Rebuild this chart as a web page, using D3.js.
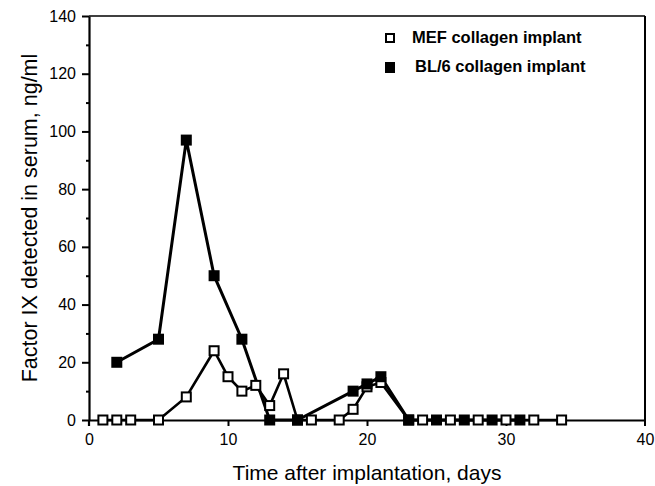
<!DOCTYPE html>
<html>
<head>
<meta charset="utf-8">
<script src="https://cdn.jsdelivr.net/npm/d3@7"></script>
<style>
  body { margin: 0; background: #fff; }
  svg text { font-family: "Liberation Sans", Arial, sans-serif; fill: #000; }
</style>
</head>
<body>
<svg id="chart" width="655" height="486"></svg>
<script>
// days and values
var mefDays = [1, 2, 3, 5, 7, 9, 10, 11, 12, 13, 14, 15, 16, 18, 19, 20, 21, 23, 24, 26, 28, 30, 32, 34];
var mefValues = [0, 0, 0, 0, 8, 24, 15, 10, 12, 5, 16, 0, 0, 0, 3.7, 11.5, 13, 0, 0, 0, 0, 0, 0, 0];
var bl6Days = [2, 5, 7, 9, 11, 13, 15, 19, 20, 21, 23, 25, 27, 29, 31];
var bl6Values = [20, 28, 97, 50, 28, 0, 0, 10, 12.5, 15, 0, 0, 0, 0, 0];
var xTicks = [0, 10, 20, 30, 40];
var yTicks = [0, 20, 40, 60, 80, 100, 120, 140];
var yMinor = [10, 30, 50, 70, 90, 110, 130];
var legendLabels = ['MEF collagen implant', 'BL/6 collagen implant'];

var svg = d3.select('#chart');
// plot box (don't call it "top", window.top is read only)
var plotL = 89, plotR = 645, plotT = 16, plotB = 420;

var x = d3.scaleLinear().domain([0, 40]).range([plotL, plotR]);
var y = d3.scaleLinear().domain([0, 140]).range([plotB, plotT]);

// frame: top and right thin lines
svg.append('line').attr('x1', plotL).attr('x2', plotR).attr('y1', plotT).attr('y2', plotT)
   .attr('stroke', '#000').attr('stroke-width', 1.5);
svg.append('line').attr('x1', plotR).attr('x2', plotR).attr('y1', plotT).attr('y2', plotB + 6)
   .attr('stroke', '#000').attr('stroke-width', 2);

// y axis
svg.append('g').attr('transform', 'translate(' + plotL + ',0)')
  .call(d3.axisLeft(y).tickValues(yTicks).tickSize(7).tickPadding(6).tickSizeOuter(0));
svg.append('g').attr('class', 'minor').attr('transform', 'translate(' + plotL + ',0)')
  .call(d3.axisLeft(y).tickValues(yMinor).tickSize(3).tickFormat('').tickSizeOuter(0))
  .select('.domain').remove();

// x axis
var xAxis = svg.append('g').attr('transform', 'translate(0,' + plotB + ')')
  .call(d3.axisBottom(x).tickValues(xTicks).tickSize(6).tickPadding(8).tickSizeOuter(0));
xAxis.selectAll('.tick').filter(function(d) { return d == 0 || d == 40; }).select('line').remove();

svg.selectAll('.domain').attr('stroke-width', 2.2);
svg.selectAll('.tick line').attr('stroke-width', 2);
svg.selectAll('.tick text').style('font-size', '16px').style('font-family', '"Liberation Sans", Arial, sans-serif');
// y axis continues a bit below zero
svg.append('line').attr('x1', plotL).attr('x2', plotL).attr('y1', plotB).attr('y2', plotB + 6)
   .attr('stroke', '#000').attr('stroke-width', 2.2);

// axis titles
svg.append('text').attr('x', 367).attr('y', 480)
  .attr('text-anchor', 'middle').style('font-size', '21px')
  .text('Time after implantation, days');
svg.append('text').attr('transform', 'translate(37,' + ((plotT + plotB) / 2) + ') rotate(-90)')
  .attr('text-anchor', 'middle').style('font-size', '21.5px')
  .text('Factor IX detected in serum, ng/ml');

var line = d3.line().x(function(d) { return x(d[0]); }).y(function(d) { return y(d[1]); });
var mef = d3.zip(mefDays, mefValues);
var bl6 = d3.zip(bl6Days, bl6Values);
var sq = 9;

svg.append('path').datum(mef).attr('d', line)
  .attr('fill', 'none').attr('stroke', '#000').attr('stroke-width', 2.6);
svg.append('path').datum(bl6).attr('d', line)
  .attr('fill', 'none').attr('stroke', '#000').attr('stroke-width', 3);

svg.selectAll('.mef').data(mef).enter().append('rect').attr('class', 'mef')
  .attr('x', function(d) { return x(d[0]) - sq / 2; })
  .attr('y', function(d) { return y(d[1]) - sq / 2; })
  .attr('width', sq).attr('height', sq)
  .attr('fill', '#fff').attr('stroke', '#000').attr('stroke-width', 2);
svg.selectAll('.bl6').data(bl6).enter().append('rect').attr('class', 'bl6')
  .attr('x', function(d) { return x(d[0]) - sq / 2 - 1; })
  .attr('y', function(d) { return y(d[1]) - sq / 2 - 1; })
  .attr('width', sq + 2).attr('height', sq + 2)
  .attr('fill', '#000');

// legend
var legend = svg.append('g');
legend.append('rect').attr('x', 386).attr('y', 34).attr('width', 8).attr('height', 8)
  .attr('fill', '#fff').attr('stroke', '#000').attr('stroke-width', 2);
legend.append('rect').attr('x', 385).attr('y', 62).attr('width', 10).attr('height', 11)
  .attr('fill', '#000');
legend.append('text').attr('x', 412).attr('y', 43).style('font-size', '16.5px')
  .style('font-weight', 'bold').text(legendLabels[0]);
legend.append('text').attr('x', 415).attr('y', 72).style('font-size', '16.5px')
  .style('font-weight', 'bold').text(legendLabels[1]);
</script>
</body>
</html>
